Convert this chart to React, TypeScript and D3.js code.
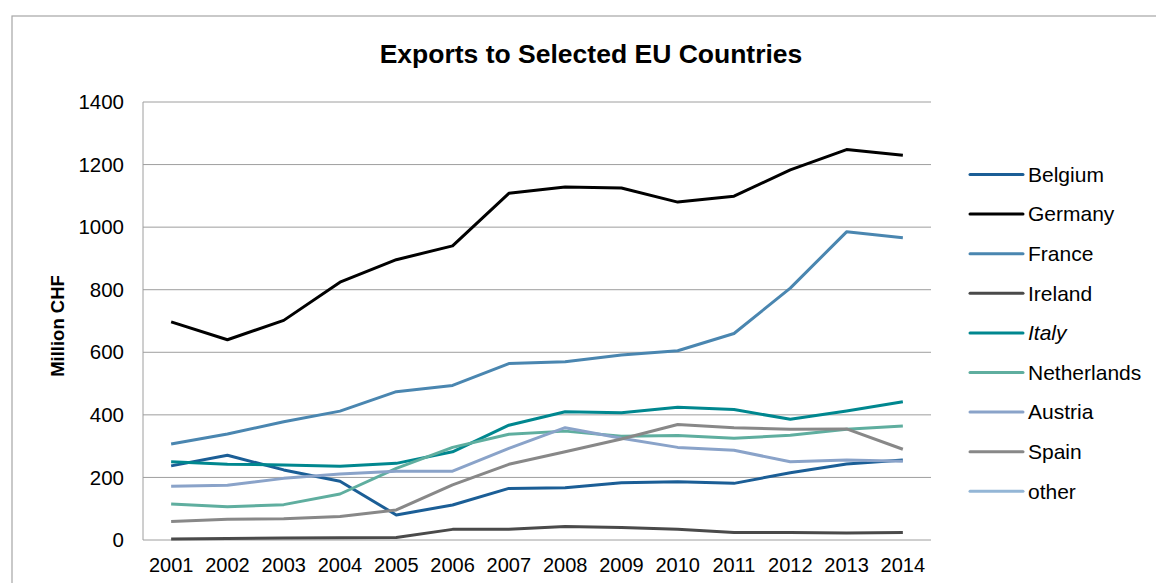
import React from "react";
import * as d3 from "d3";

const years = ["2001","2002","2003","2004","2005","2006","2007","2008","2009","2010","2011","2012","2013","2014"];
const belgium = [237, 271, 224, 188, 80, 112, 165, 167, 183, 186, 181, 215, 243, 256];
const germany = [697, 640, 702, 824, 896, 940, 1108, 1128, 1125, 1080, 1099, 1183, 1248, 1230];
const france = [307, 339, 378, 412, 474, 494, 564, 570, 591, 605, 660, 805, 985, 966];
const ireland = [3, 5, 6, 7, 8, 34, 34, 43, 40, 34, 24, 24, 22, 24];
const italy = [250, 242, 240, 236, 245, 282, 367, 410, 407, 424, 417, 386, 412, 442];
const netherlands = [115, 106, 113, 147, 229, 296, 338, 348, 332, 334, 325, 335, 354, 364];
const austria = [172, 175, 197, 211, 220, 220, 293, 359, 325, 296, 287, 250, 256, 252];
const spain = [59, 66, 68, 75, 96, 176, 242, 282, 323, 369, 359, 354, 355, 290];
const other: (number | null)[] = [];
const yTicks = [0, 200, 400, 600, 800, 1000, 1200, 1400];

const series = [
  { name: "Belgium", values: belgium, color: "#1b5e96", italic: false },
  { name: "Germany", values: germany, color: "#000000", italic: false },
  { name: "France", values: france, color: "#4a86b0", italic: false },
  { name: "Ireland", values: ireland, color: "#4a4a4a", italic: false },
  { name: "Italy", values: italy, color: "#00878f", italic: true },
  { name: "Netherlands", values: netherlands, color: "#5fae9f", italic: false },
  { name: "Austria", values: austria, color: "#8aa3c9", italic: false },
  { name: "Spain", values: spain, color: "#888888", italic: false },
  { name: "other", values: other, color: "#94b6d6", italic: false },
];

export default function App() {
  const W = 1156, H = 583;
  const left = 143, right = 931, top = 102, bottom = 540;
  const x = d3.scaleBand<string>().domain(years).range([left, right]);
  const y = d3.scaleLinear().domain([0, 1400]).range([bottom, top]);
  const cx = (i: number) => (x(years[i]) as number) + x.bandwidth() / 2;
  const line = d3
    .line<number | null>()
    .defined((d) => d != null)
    .x((_, i) => cx(i))
    .y((d) => y(d as number));
  const font = "'Liberation Sans', Arial, sans-serif";
  return (
    <svg width={W} height={H} style={{ position: "absolute", left: 0, top: 0, background: "#fff" }} fontFamily={font}>
      <rect x={12} y={16} width={1160} height={600} fill="#fff" stroke="#a6a6a6" strokeWidth={1.2} />
      <text x={591} y={63} textAnchor="middle" fontSize={26.5} fontWeight="bold">Exports to Selected EU Countries</text>
      {yTicks.map((t) => (
        <g key={t}>
          <line x1={left} x2={right} y1={y(t)} y2={y(t)} stroke="#9e9e9e" strokeWidth={1} />
          <text x={124} y={y(t)} dy="0.35em" textAnchor="end" fontSize={20.5}>{t}</text>
        </g>
      ))}
      <line x1={left} x2={left} y1={top} y2={bottom} stroke="#9e9e9e" strokeWidth={1} />
      {years.map((yr, i) => (
        <text key={yr} x={cx(i)} y={572} textAnchor="middle" fontSize={20}>{yr}</text>
      ))}
      <text transform={`translate(64,326) rotate(-90)`} textAnchor="middle" fontSize={18.5} fontWeight="bold">Million CHF</text>
      {series.map((s) =>
        s.values.length ? (
          <path key={s.name} d={line(s.values) || ""} fill="none" stroke={s.color} strokeWidth={3} strokeLinejoin="round" />
        ) : null
      )}
      {series.map((s, i) => {
        const ly = 174.5 + i * 39.6;
        return (
          <g key={s.name}>
            <line x1={970} x2={1023} y1={ly} y2={ly} stroke={s.color} strokeWidth={3} strokeLinecap="round" />
            <text x={1028} y={ly} dy="0.35em" fontSize={21} fontStyle={s.italic ? "italic" : "normal"}>{s.name}</text>
          </g>
        );
      })}
    </svg>
  );
}
